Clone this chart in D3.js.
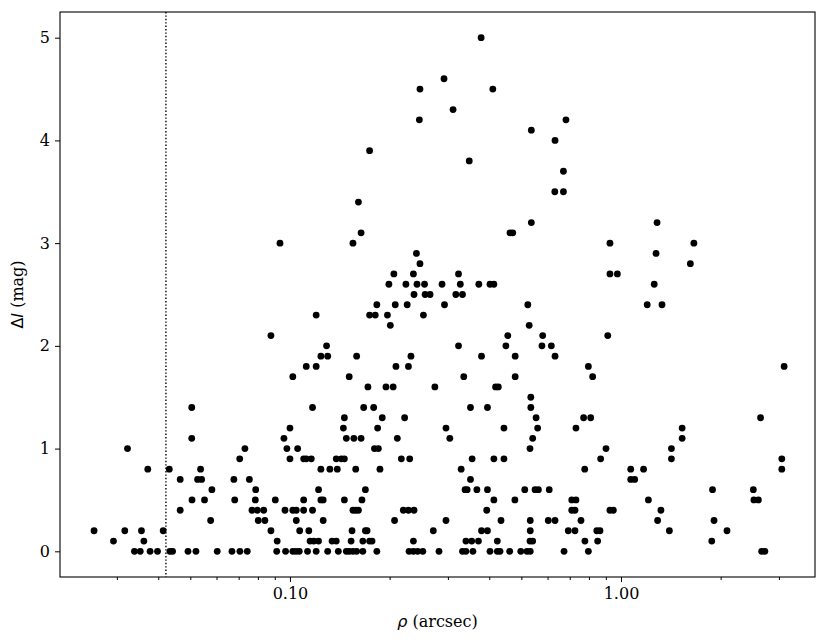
<!DOCTYPE html>
<html>
<head>
<meta charset="utf-8">
<script src="https://cdn.jsdelivr.net/npm/d3@7"></script>
<style>
  body { margin: 0; background: #fff; }
  text { font-family: "DejaVu Serif", serif; }
</style>
</head>
<body>
<svg id="chart" width="831" height="643"></svg>
<script>
// magnitude difference rows (mag) and the separations (arcsec) seen on each row
const dmagLevels = [5.0, 4.6, 4.5, 4.3, 4.2, 4.1, 4.0, 3.9, 3.8, 3.7, 3.5, 3.4, 3.2, 3.1, 3.0,
  2.9, 2.8, 2.7, 2.6, 2.5, 2.4, 2.3, 2.2, 2.1, 2.0, 1.9, 1.8, 1.7, 1.6, 1.5, 1.4, 1.3, 1.2,
  1.1, 1.0, 0.9, 0.8, 0.7, 0.6, 0.5, 0.4, 0.3, 0.2, 0.1, 0.0];

const rhoRows = [
  [0.378],
  [0.292],
  [0.247, 0.410],
  [0.311],
  [0.246, 0.682],
  [0.536],
  [0.632],
  [0.174],
  [0.348],
  [0.670],
  [0.631, 0.670],
  [0.161],
  [0.536, 1.285],
  [0.164, 0.462, 0.471],
  [0.0933, 0.155, 0.926, 1.66],
  [0.241, 1.276],
  [0.247, 1.62],
  [0.206, 0.236, 0.323, 0.926, 0.975],
  [0.199, 0.224, 0.242, 0.255, 0.288, 0.327, 0.372, 0.402, 0.413, 1.26],
  [0.237, 0.256, 0.265, 0.317, 0.332],
  [0.183, 0.208, 0.226, 0.293, 0.523, 1.20, 1.33],
  [0.120, 0.174, 0.181, 0.197, 0.253],
  [0.201, 0.528],
  [0.0876, 0.455, 0.580, 0.912],
  [0.129, 0.323, 0.449, 0.577, 0.616],
  [0.124, 0.130, 0.159, 0.232, 0.379, 0.479, 0.632],
  [0.112, 0.120, 0.209, 0.228, 0.797, 3.11],
  [0.102, 0.151, 0.335, 0.479, 0.821],
  [0.172, 0.195, 0.205, 0.274, 0.418, 0.426],
  [0.534],
  [0.0505, 0.117, 0.167, 0.179, 0.351, 0.395, 0.534],
  [0.146, 0.190, 0.222, 0.554, 0.771, 0.810, 2.64],
  [0.100, 0.145, 0.184, 0.296, 0.443, 0.560, 0.731, 1.53],
  [0.0505, 0.0959, 0.148, 0.156, 0.164, 0.211, 0.304, 0.541, 1.53],
  [0.0323, 0.0731, 0.0979, 0.1055, 0.180, 0.185, 0.531, 0.901, 1.42],
  [0.0705, 0.100, 0.110, 0.112, 0.116, 0.138, 0.143, 0.146, 0.217, 0.230, 0.355, 0.413,
   0.443, 0.868, 1.42, 3.06],
  [0.0372, 0.0432, 0.0537, 0.124, 0.132, 0.139, 0.158, 0.187, 0.329, 0.777, 1.07, 1.17, 3.06],
  [0.0466, 0.0526, 0.0541, 0.0677, 0.0754, 0.351, 1.07, 1.10],
  [0.0581, 0.0788, 0.122, 0.169, 0.338, 0.343, 0.367, 0.395, 0.512, 0.550, 0.563, 0.607,
   1.89, 2.51],
  [0.0506, 0.0552, 0.0681, 0.0786, 0.0903, 0.110, 0.124, 0.126, 0.146, 0.165, 0.413, 0.478,
   0.710, 0.731, 1.21, 2.52, 2.60],
  [0.0466, 0.0768, 0.0797, 0.0833, 0.0966, 0.102, 0.1045, 0.110, 0.117, 0.155, 0.158, 0.161,
   0.220, 0.228, 0.237, 0.393, 0.710, 0.726, 0.926, 0.948, 1.32],
  [0.0576, 0.0802, 0.0840, 0.1045, 0.126, 0.207, 0.296, 0.434, 0.532, 0.603, 0.632, 0.757,
   1.29, 1.91],
  [0.0256, 0.0317, 0.0356, 0.0414, 0.0876, 0.107, 0.114, 0.154, 0.169, 0.171, 0.271, 0.379,
   0.395, 0.532, 0.693, 0.726, 0.845, 0.864, 1.40, 2.09],
  [0.0293, 0.0362, 0.0915, 0.115, 0.118, 0.122, 0.134, 0.138, 0.153, 0.166, 0.174, 0.177,
   0.236, 0.340, 0.354, 0.371, 0.423, 0.531, 0.541, 0.778, 0.850, 1.88],
  [0.0339, 0.0353, 0.0378, 0.0398, 0.0434, 0.0442, 0.0492, 0.0520, 0.0603, 0.0668, 0.0706,
   0.0743, 0.0912, 0.0970, 0.102, 0.1043, 0.1067, 0.113, 0.120, 0.130, 0.140, 0.148, 0.151,
   0.155, 0.159, 0.166, 0.183, 0.229, 0.236, 0.243, 0.252, 0.282, 0.332, 0.340, 0.357,
   0.402, 0.423, 0.431, 0.461, 0.498, 0.520, 0.532, 0.673, 0.797, 2.66, 2.72]
];

const limitRho = 0.0422; // dotted vertical line
const yTicks = [0, 1, 2, 3, 4, 5];
const xMajor = [0.1, 1];
const xMinor = [0.03, 0.04, 0.05, 0.06, 0.07, 0.08, 0.09,
  0.2, 0.3, 0.4, 0.5, 0.6, 0.7, 0.8, 0.9, 2, 3];

const points = [];
dmagLevels.forEach((m, i) => rhoRows[i].forEach(r => points.push({ rho: r, dm: m })));

const svg = d3.select("#chart");
const plotL = 60, plotR = 815, plotT = 12, plotB = 577;

const x = d3.scaleLog().domain([0.0202, 3.855]).range([plotL, plotR]);
const y = d3.scaleLinear().domain([-0.25, 5.25]).range([plotB, plotT]);

svg.append("rect").attr("width", 831).attr("height", 643).attr("fill", "#fff");

// points
svg.append("g")
  .selectAll("circle")
  .data(points)
  .join("circle")
  .attr("cx", d => x(d.rho))
  .attr("cy", d => y(d.dm))
  .attr("r", 3.4)
  .attr("fill", "#000");

// dotted limit line
svg.append("line")
  .attr("x1", x(limitRho)).attr("x2", x(limitRho))
  .attr("y1", plotT).attr("y2", plotB)
  .attr("stroke", "#000")
  .attr("stroke-width", 1.4)
  .attr("stroke-dasharray", "1.4,2");

// axes
const yAxis = svg.append("g")
  .attr("transform", `translate(${plotL},0)`)
  .call(d3.axisLeft(y).tickValues(yTicks).tickSize(5).tickPadding(5).tickFormat(d3.format("d")));

const xAxis = svg.append("g")
  .attr("transform", `translate(0,${plotB})`)
  .call(d3.axisBottom(x).tickValues(xMajor).tickSize(5).tickPadding(6).tickFormat(d3.format(".2f")));

const xMinorAxis = svg.append("g")
  .attr("transform", `translate(0,${plotB})`)
  .call(d3.axisBottom(x).tickValues(xMinor).tickSize(3).tickFormat(""));

[yAxis, xAxis, xMinorAxis].forEach(g => {
  g.select(".domain").remove();
  g.selectAll("line").attr("stroke", "#000").attr("stroke-width", 1);
  g.selectAll("text")
    .attr("fill", "#000")
    .style("font-family", "DejaVu Serif")
    .style("font-size", "16px");
});

// frame
svg.append("rect")
  .attr("x", plotL).attr("y", plotT)
  .attr("width", plotR - plotL).attr("height", plotB - plotT)
  .attr("fill", "none")
  .attr("stroke", "#000")
  .attr("stroke-width", 1.1);

// axis titles
const xt = svg.append("text")
  .attr("x", (plotL + plotR) / 2)
  .attr("y", 627)
  .attr("text-anchor", "middle")
  .style("font-size", "16px");
xt.append("tspan").style("font-family", "DejaVu Sans").style("font-style", "italic").text("ρ");
xt.append("tspan").text(" (arcsec)");

const yt = svg.append("text")
  .attr("transform", `translate(23,${(plotT + plotB) / 2}) rotate(-90)`)
  .attr("text-anchor", "middle")
  .style("font-size", "16px");
yt.append("tspan").style("font-family", "DejaVu Sans").text("Δ");
yt.append("tspan").style("font-family", "DejaVu Sans").style("font-style", "italic").text("I");
yt.append("tspan").text(" (mag)");
</script>
</body>
</html>
